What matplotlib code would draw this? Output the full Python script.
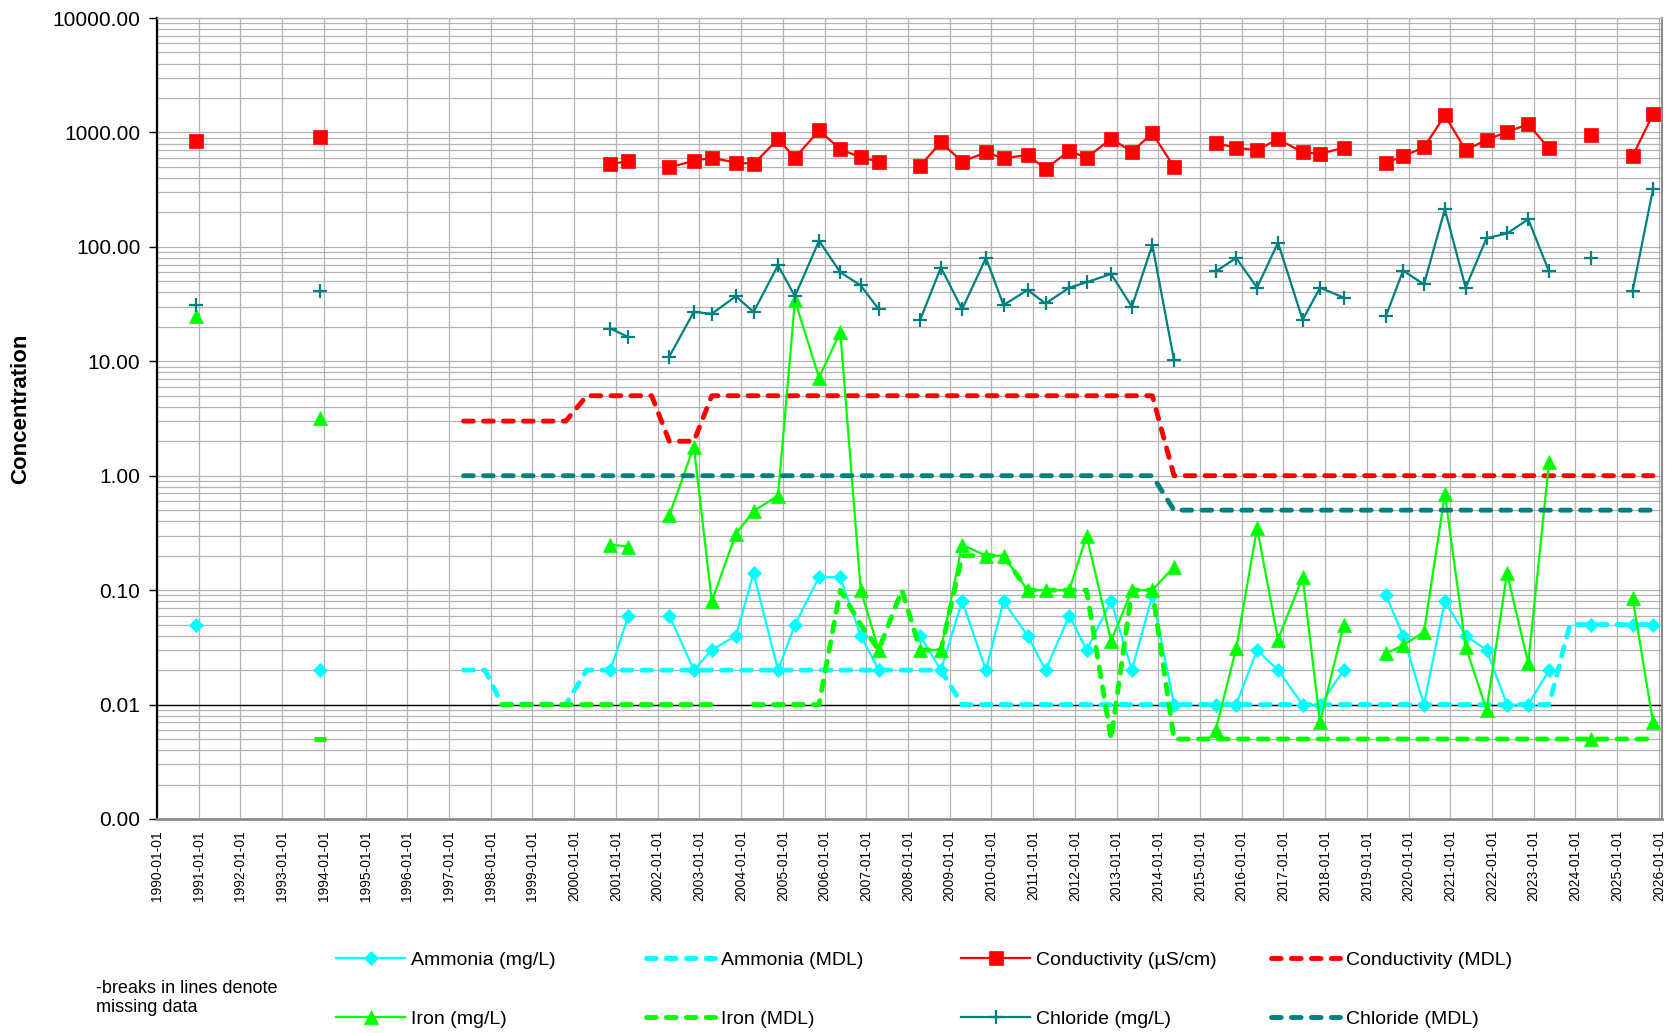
import matplotlib
matplotlib.use("Agg")
import matplotlib.pyplot as plt
import matplotlib.dates as mdates
from matplotlib.ticker import LogLocator, FormatStrFormatter, NullFormatter
import numpy as np
import pandas as pd

plt.rcParams['font.family'] = ['Liberation Sans', 'DejaVu Sans']

# sampling events (measured parameters); the empty dates mark the long gaps
sample_dates = [
    "1990-12-12", "1992-06-15", "1993-12-01", "1997-06-15", "2000-11-14",
    "2001-04-20", "2001-11-10",
    "2002-04-13", "2002-11-14", "2003-04-20", "2003-11-17", "2004-04-20",
    "2004-11-20", "2005-04-17", "2005-11-14", "2006-05-19", "2006-11-14",
    "2007-04-20", "2007-11-10", "2008-04-17", "2008-10-16", "2009-04-20",
    "2009-11-14", "2010-04-17", "2010-11-14", "2011-04-20", "2011-11-14",
    "2012-04-13", "2012-11-14", "2013-05-15", "2013-11-10", "2014-05-19",
    "2014-11-10", "2015-05-19", "2015-11-14", "2016-05-15", "2016-11-14",
    "2017-06-18", "2017-11-17", "2018-06-13", "2018-11-20", "2019-06-18",
    "2019-11-14", "2020-05-15", "2020-11-14", "2021-05-15", "2021-11-14",
    "2022-05-12", "2022-11-14", "2023-05-15", "2023-11-14", "2024-05-19",
    "2024-11-14", "2025-05-15", "2025-11-10",
]

ammonia = [0.05, None, 0.02, None, 0.02, 0.06, None, 0.06, 0.02, 0.03, 0.04, 0.14,
           0.02, 0.05, 0.13, 0.13, 0.04, 0.02, None, 0.04, 0.02, 0.08,
           0.02, 0.08, 0.04, 0.02, 0.06, 0.03, 0.08, 0.02, 0.09, 0.01,
           None, 0.01, 0.01, 0.03, 0.02, 0.01, 0.01, 0.02, None, 0.09,
           0.04, 0.01, 0.08, 0.04, 0.03, 0.01, 0.01, 0.02, None, 0.05,
           None, 0.05, 0.05]

conductivity = [840, None, 920, None, 525, 565, None, 495, 565, 600, 545, 530,
                875, 600, 1040, 715, 605, 555, None, 510, 820, 555,
                670, 595, 635, 480, 690, 600, 880, 680, 980, 500,
                None, 805, 735, 700, 875, 670, 650, 735, None, 540,
                620, 740, 1410, 700, 860, 1010, 1180, 725, None, 950,
                None, 620, 1440]

iron = [25, None, 3.2, None, 0.25, 0.24, None, 0.45, 1.8, 0.08, 0.31, 0.49,
        0.67, 34, 7.2, 18, 0.1, 0.03, None, 0.03, 0.03, 0.25,
        0.2, 0.2, 0.1, 0.1, 0.1, 0.3, 0.036, 0.1, 0.1, 0.16,
        None, 0.006, 0.031, 0.35, 0.037, 0.13, 0.007, 0.05, None, 0.028,
        0.033, 0.043, 0.69, 0.032, 0.009, 0.14, 0.023, 1.31, None, 0.005,
        None, 0.086, 0.007]

chloride = [31, None, 41, None, 19.3, 16.3, None, 11, 27, 26, 37, 27,
            69, 37, 113, 60, 46, 28.5, None, 23, 66, 28.5,
            80, 31, 42, 32, 44, 49, 58, 30, 104, 10.2,
            None, 61, 80, 44, 109, 23, 44, 36, None, 25,
            62, 47, 213, 44, 119, 131, 174, 61, None, 80,
            None, 41, 318]

# detection limits (MDL) - own dates before 2000, then same as samples
mdl_dates = ["1993-12-01", "1997-05-08", "1997-11-12", "1998-04-08",
             "1998-11-10", "1999-04-20", "1999-10-20", "2000-04-20"] + sample_dates[4:]

ammonia_mdl = [None, 0.02, 0.02, 0.01, 0.01, 0.01, 0.01, 0.02] + \
    [0.02] * 17 + [0.01] * 29 + [0.05] * 5

conductivity_mdl = [None, 3, 3, 3, 3, 3, 3, 5] + \
    [5, 5, 5, 2, 2] + [5] * 22 + [1] * 24

iron_mdl = [0.005, None, None, 0.01, 0.01, 0.01, 0.01, 0.01] + \
    [0.01, 0.01, 0.01, 0.01, 0.01, 0.01, None, 0.01, 0.01, 0.01, 0.01,
     0.1, 0.05, 0.03, 0.1, 0.03, 0.03, 0.2, 0.2, 0.2, 0.1, 0.1, 0.1, 0.1,
     0.005, 0.1, 0.1] + [0.005] * 24

chloride_mdl = [None] + [1.0] * 7 + [1.0] * 27 + [0.5] * 24


def arr(vals):
    return np.array([np.nan if v is None else v for v in vals], dtype=float)


d_samp = pd.to_datetime(sample_dates)
d_mdl = pd.to_datetime(mdl_dates)

fig = plt.figure(figsize=(16.75, 10.33), dpi=100)
ax = fig.add_axes([157 / 1675, 1 - 819 / 1033, (1662 - 157) / 1675, (819 - 18) / 1033])

mdl_style = dict(linewidth=3.5, dash_capstyle='round', dashes=(2.0, 2.1))

series = [
    ('Ammonia (mg/L)', d_samp, ammonia, '#00FFFF', 'D', 7, False),
    ('Ammonia (MDL)', d_mdl, ammonia_mdl, '#00FFFF', None, 0, True),
    ('Conductivity (µS/cm)', d_samp, conductivity, '#FF0000', 's', 10.5, False),
    ('Conductivity (MDL)', d_mdl, conductivity_mdl, '#FF0000', None, 0, True),
    ('Iron (mg/L)', d_samp, iron, '#00FF00', '^', 10, False),
    ('Iron (MDL)', d_mdl, iron_mdl, '#00FF00', None, 0, True),
    ('Chloride (mg/L)', d_samp, chloride, '#008080', '+', 10, False),
    ('Chloride (MDL)', d_mdl, chloride_mdl, '#008080', None, 0, True),
]

handles = {}
for i, (name, dates, vals, col, mk, ms, is_mdl) in enumerate(series):
    y = arr(vals)
    if is_mdl:
        h, = ax.plot(dates, y, color=col, zorder=3 + i, **mdl_style)
        # isolated MDL values get a short dash
        for j in range(len(y)):
            prev_nan = j == 0 or np.isnan(y[j - 1])
            next_nan = j == len(y) - 1 or np.isnan(y[j + 1])
            if not np.isnan(y[j]) and prev_nan and next_nan:
                ax.plot(dates[j], y[j], marker='_', color=col, markersize=9,
                        markeredgewidth=3.5, linestyle='none', zorder=3 + i)
    else:
        h, = ax.plot(dates, y, color=col, linewidth=1.6, marker=mk, markersize=ms,
                     markerfacecolor=col, markeredgecolor=col,
                     markeredgewidth=1.6 if mk == '+' else 0.5, zorder=3 + i)
    handles[name] = h

ax.axhline(0.01, color='black', linewidth=1, zorder=2)

ax.set_yscale('log')
ax.set_ylim(0.001, 10000)
ax.set_xlim(pd.Timestamp('1990-01-01'), pd.Timestamp('2026-01-28'))

ax.yaxis.set_major_locator(LogLocator(base=10, numticks=20))
ax.yaxis.set_minor_locator(LogLocator(base=10, subs=np.arange(2, 10), numticks=100))
ax.yaxis.set_major_formatter(FormatStrFormatter('%.2f'))
ax.yaxis.set_minor_formatter(NullFormatter())
ax.tick_params(axis='y', which='major', length=6, width=1, pad=6, labelsize=15)
ax.tick_params(axis='y', which='minor', length=0)

ax.xaxis.set_major_locator(mdates.YearLocator(1))
ax.xaxis.set_major_formatter(mdates.DateFormatter('%Y-%m-%d'))
ax.tick_params(axis='x', which='major', length=0, pad=8, labelsize=10, labelrotation=90)

ax.grid(True, which='both', axis='y', color='#b3b3b3', linewidth=0.9)
ax.grid(True, which='major', axis='x', color='#b3b3b3', linewidth=0.9)
ax.set_axisbelow(True)

ax.spines['left'].set_color('black')
ax.spines['left'].set_linewidth(1.6)
ax.spines['bottom'].set_color('#8c8c8c')
ax.spines['bottom'].set_linewidth(2)
ax.spines['right'].set_color('#8c8c8c')
ax.spines['right'].set_linewidth(1.5)
ax.spines['top'].set_color('#b3b3b3')
ax.spines['top'].set_linewidth(1)

fig.text(21 / 1675, 1 - 409 / 1033, 'Concentration', rotation=90, ha='center',
         va='center', fontsize=16, fontweight='bold')

fig.text(96 / 1675, 1 - 998 / 1033, '-breaks in lines denote\nmissing data',
         ha='left', va='center', fontsize=13, linespacing=1.15)

# legend laid out in a fixed grid, like the original
legend_pos = [
    ('Ammonia (mg/L)', 336, 960), ('Ammonia (MDL)', 646, 960),
    ('Conductivity (µS/cm)', 961, 960), ('Conductivity (MDL)', 1271, 960),
    ('Iron (mg/L)', 336, 1019), ('Iron (MDL)', 646, 1019),
    ('Chloride (mg/L)', 961, 1019), ('Chloride (MDL)', 1271, 1019),
]
for name, px, py in legend_pos:
    fig.legend([handles[name]], [name], loc='center left',
               bbox_to_anchor=(px / 1675, 1 - py / 1033), frameon=False,
               fontsize=14, handlelength=3.55, handletextpad=0.3,
               borderpad=0, borderaxespad=0)

plt.savefig('out.png', dpi=100)
